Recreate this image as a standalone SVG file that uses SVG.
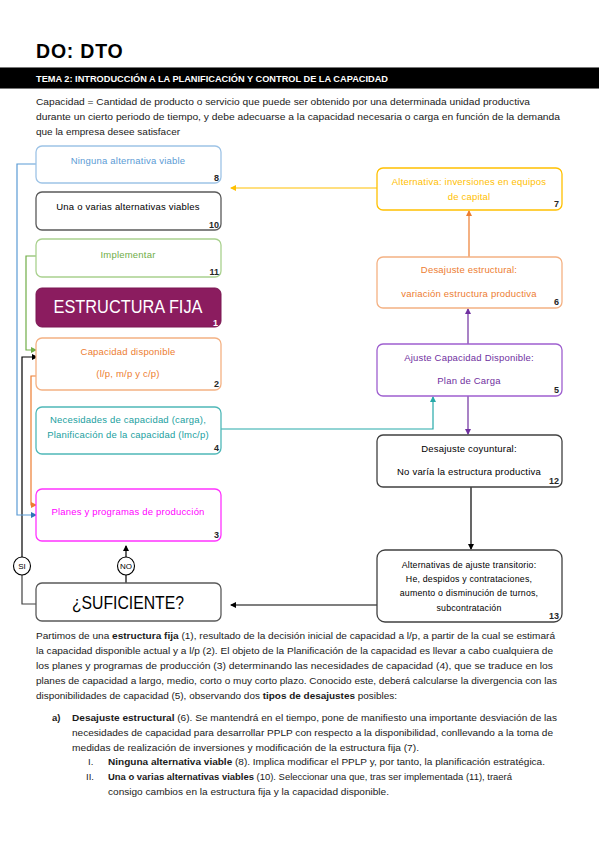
<svg xmlns="http://www.w3.org/2000/svg" width="599" height="848" viewBox="0 0 599 848">
<style>
text{font-family:"Liberation Sans",Arial,sans-serif;}
.n{fill:#fff;stroke-width:1.3;}
.t{font-size:9.5px;text-anchor:middle;letter-spacing:0.2px;}
.num{font-size:9px;text-anchor:end;fill:#262626;font-weight:bold;}
.p{font-size:9.5px;fill:#1a1a1a;}
.c{fill:none;stroke-width:1.2;}
.b{font-weight:bold;}
</style>
<defs>
<marker id="aY" markerWidth="6" markerHeight="6" refX="5" refY="3" orient="auto" markerUnits="userSpaceOnUse"><path d="M0,0 L6,3 L0,6z" fill="#ffc000"/></marker>
<marker id="aO" markerWidth="6" markerHeight="6" refX="5" refY="3" orient="auto" markerUnits="userSpaceOnUse"><path d="M0,0 L6,3 L0,6z" fill="#ed7d31"/></marker>
<marker id="aP" markerWidth="6" markerHeight="6" refX="5" refY="3" orient="auto" markerUnits="userSpaceOnUse"><path d="M0,0 L6,3 L0,6z" fill="#7030a0"/></marker>
<marker id="aT" markerWidth="6" markerHeight="6" refX="5" refY="3" orient="auto" markerUnits="userSpaceOnUse"><path d="M0,0 L6,3 L0,6z" fill="#26a9a9"/></marker>
<marker id="aK" markerWidth="6" markerHeight="6" refX="5" refY="3" orient="auto" markerUnits="userSpaceOnUse"><path d="M0,0 L6,3 L0,6z" fill="#000"/></marker>
<marker id="aB" markerWidth="6" markerHeight="6" refX="5" refY="3" orient="auto" markerUnits="userSpaceOnUse"><path d="M0,0 L6,3 L0,6z" fill="#2e75b6"/></marker>
<marker id="aG" markerWidth="6" markerHeight="6" refX="5" refY="3" orient="auto" markerUnits="userSpaceOnUse"><path d="M0,0 L6,3 L0,6z" fill="#70ad47"/></marker>
</defs>
<rect width="599" height="848" fill="#fff"/>

<!-- header -->
<text x="36" y="58" font-size="19.5" font-weight="900" fill="#000" font-family="Lato,'Liberation Sans',sans-serif" letter-spacing="0.8">DO: DTO</text>
<rect x="0" y="67" width="599" height="22" fill="#000"/>
<line x1="0" y1="67.5" x2="599" y2="67.5" stroke="#777" stroke-width="1"/>
<line x1="0" y1="88.5" x2="599" y2="88.5" stroke="#777" stroke-width="1"/>
<text x="36" y="82" font-size="9" font-weight="bold" fill="#fff" textLength="352" lengthAdjust="spacingAndGlyphs">TEMA 2: INTRODUCCIÓN A LA PLANIFICACIÓN Y CONTROL DE LA CAPACIDAD</text>
<text class="p" x="36" y="105" textLength="494" lengthAdjust="spacingAndGlyphs">Capacidad = Cantidad de producto o servicio que puede ser obtenido por una determinada unidad productiva</text>
<text class="p" x="36" y="120" textLength="524" lengthAdjust="spacingAndGlyphs">durante un cierto periodo de tiempo, y debe adecuarse a la capacidad necesaria o carga en función de la demanda</text>
<text class="p" x="36" y="135" textLength="144" lengthAdjust="spacingAndGlyphs">que la empresa desee satisfacer</text>

<!-- connectors -->
<g id="connectors">
<path class="c" stroke="#ffc000" d="M377,188 H231" marker-end="url(#aY)"/>
<path class="c" stroke="#ed7d31" d="M469,257 V211" marker-end="url(#aO)"/>
<path class="c" stroke="#7030a0" d="M468,344 V309" marker-end="url(#aP)"/>
<path class="c" stroke="#26a9a9" d="M221,429 H433 V397" marker-end="url(#aT)"/>
<path class="c" stroke="#7030a0" d="M468,396 V434" marker-end="url(#aP)"/>
<path class="c" stroke="#000" d="M471,487 V549" marker-end="url(#aK)"/>
<path class="c" stroke="#000" d="M377,605 H231" marker-end="url(#aK)"/>
<path class="c" stroke="#000" d="M126,583 V575"/>
<path class="c" stroke="#000" d="M126,557 V546" marker-end="url(#aK)"/>
<path class="c" stroke="#404040" d="M36,604 H22 V575"/>
<path class="c" stroke="#000" d="M22,557 V357 H37" marker-end="url(#aK)"/>
<path class="c" stroke="#5b9bd5" d="M36,164 H17 V515 H36" marker-end="url(#aB)"/>
<path class="c" stroke="#70ad47" d="M36,256 H26 V350 H36" marker-end="url(#aG)"/>
<path class="c" stroke="#ed7d31" d="M36,376 H31 V505 H36" marker-end="url(#aO)"/>
<g id="si"><ellipse cx="22" cy="566" rx="8.5" ry="9" fill="#fff" stroke="#000" stroke-width="1.1"/><text x="22" y="569" font-size="8" text-anchor="middle">SI</text></g>
<g id="no"><ellipse cx="126" cy="566" rx="8.5" ry="9" fill="#fff" stroke="#000" stroke-width="1.1"/><text x="126" y="569" font-size="8" text-anchor="middle">NO</text></g>
</g>

<!-- nodes -->
<g id="n8"><rect class="n" x="36" y="146" width="185" height="37" rx="6" stroke="#9dc3e6"/><text class="t" x="128" y="164" fill="#5b9bd5">Ninguna alternativa viable</text><text class="num" x="219" y="181">8</text></g>
<g id="n10"><rect class="n" x="36" y="192" width="185" height="38" rx="6" stroke="#595959"/><text class="t" x="128" y="210" fill="#000">Una o varias alternativas viables</text><text class="num" x="219" y="228">10</text></g>
<g id="n11"><rect class="n" x="36" y="239" width="185" height="38" rx="6" stroke="#a9d18e"/><text class="t" x="128" y="258" fill="#70ad47">Implementar</text><text class="num" x="219" y="275">11</text></g>
<g id="n1"><rect x="36" y="288" width="185" height="39" rx="6" fill="#8b1c5f" stroke="#7a1752"/><text x="128" y="313" font-size="18" text-anchor="middle" fill="#fff" textLength="149" lengthAdjust="spacingAndGlyphs">ESTRUCTURA FIJA</text><text class="num" x="218" y="325.5" style="fill:#fff">1</text></g>
<g id="n2"><rect class="n" x="36" y="338" width="185" height="52" rx="6" stroke="#f4b183"/><text class="t" x="128" y="355" fill="#ed7d31">Capacidad disponible</text><text class="t" x="128" y="377" fill="#ed7d31">(l/p, m/p y c/p)</text><text class="num" x="219" y="387">2</text></g>
<g id="n4"><rect class="n" x="36" y="407" width="185" height="47" rx="6" stroke="#4fb8b8"/><text class="t" x="128" y="423" fill="#21a0a0">Necesidades de capacidad (carga),</text><text class="t" x="128" y="438" fill="#21a0a0">Planificación de la capacidad (lmc/p)</text><text class="num" x="219" y="451">4</text></g>
<g id="n3"><rect class="n" x="36" y="489" width="185" height="52" rx="6" stroke="#ff33ff"/><text class="t" x="128" y="515" fill="#ff00ff">Planes y programas de producción</text><text class="num" x="219" y="538">3</text></g>
<g id="n7"><rect class="n" x="377" y="168" width="185" height="42" rx="6" stroke="#ffc000"/><text class="t" x="469" y="185" fill="#ffc000">Alternativa: inversiones en equipos</text><text class="t" x="469" y="200" fill="#ffc000">de capital</text><text class="num" x="559" y="207">7</text></g>
<g id="n6"><rect class="n" x="377" y="257" width="185" height="51" rx="6" stroke="#f4b183"/><text class="t" x="469" y="273" fill="#ed7d31">Desajuste estructural:</text><text class="t" x="469" y="297" fill="#ed7d31">variación estructura productiva</text><text class="num" x="559" y="305">6</text></g>
<g id="n5"><rect class="n" x="377" y="344" width="185" height="52" rx="6" stroke="#9e5fcf"/><text class="t" x="469" y="361" fill="#7030a0">Ajuste Capacidad Disponible:</text><text class="t" x="469" y="384" fill="#7030a0">Plan de Carga</text><text class="num" x="559" y="393">5</text></g>
<g id="n12"><rect class="n" x="377" y="435" width="185" height="52" rx="6" stroke="#404040"/><text class="t" x="469" y="452" fill="#000">Desajuste coyuntural:</text><text class="t" x="469" y="475" fill="#000">No varía la estructura productiva</text><text class="num" x="559" y="484">12</text></g>
<g id="n13"><rect class="n" x="377" y="550" width="185" height="72" rx="8" stroke="#404040"/><text class="t" x="469" y="568" fill="#000" style="font-size:8.8px">Alternativas de ajuste transitorio:</text><text class="t" x="469" y="582" fill="#000" style="font-size:8.8px">He, despidos y contrataciones,</text><text class="t" x="469" y="596" fill="#000" style="font-size:8.8px">aumento o disminución de turnos,</text><text class="t" x="469" y="611" fill="#000" style="font-size:8.8px">subcontratación</text><text class="num" x="559" y="619">13</text></g>
<g id="nS"><rect class="n" x="36" y="583" width="185" height="38" rx="6" stroke="#595959"/><text x="128" y="609" font-size="18" text-anchor="middle" fill="#000" textLength="112" lengthAdjust="spacingAndGlyphs">¿SUFICIENTE?</text></g>

<!-- body text -->
<text class="p" x="36" y="639" textLength="519" lengthAdjust="spacingAndGlyphs">Partimos de una <tspan class="b">estructura fija</tspan> (1), resultado de la decisión inicial de capacidad a l/p, a partir de la cual se estimará</text>
<text class="p" x="36" y="654" textLength="517" lengthAdjust="spacingAndGlyphs">la capacidad disponible actual y a l/p (2). El objeto de la Planificación de la capacidad es llevar a cabo cualquiera de</text>
<text class="p" x="36" y="669" textLength="517" lengthAdjust="spacingAndGlyphs">los planes y programas de producción (3) determinando las necesidades de capacidad (4), que se traduce en los</text>
<text class="p" x="36" y="684" textLength="521" lengthAdjust="spacingAndGlyphs">planes de capacidad a largo, medio, corto o muy corto plazo. Conocido este, deberá calcularse la divergencia con las</text>
<text class="p" x="36" y="699" textLength="361" lengthAdjust="spacingAndGlyphs">disponibilidades de capacidad (5), observando dos <tspan class="b">tipos de desajustes</tspan> posibles:</text>
<text class="p b" x="52" y="721">a)</text>
<text class="p" x="72" y="721" textLength="485" lengthAdjust="spacingAndGlyphs"><tspan class="b">Desajuste estructural</tspan> (6). Se mantendrá en el tiempo, pone de manifiesto una importante desviación de las</text>
<text class="p" x="72" y="736" textLength="481" lengthAdjust="spacingAndGlyphs">necesidades de capacidad para desarrollar PPLP con respecto a la disponibilidad, conllevando a la toma de</text>
<text class="p" x="72" y="751" textLength="347" lengthAdjust="spacingAndGlyphs">medidas de realización de inversiones y modificación de la estructura fija (7).</text>
<text class="p" x="88" y="765">I.</text>
<text class="p" x="108" y="765" textLength="437" lengthAdjust="spacingAndGlyphs"><tspan class="b">Ninguna alternativa viable</tspan> (8). Implica modificar el PPLP y, por tanto, la planificación estratégica.</text>
<text class="p" x="86" y="780">II.</text>
<text class="p" x="108" y="780" textLength="404" lengthAdjust="spacingAndGlyphs"><tspan class="b">Una o varias alternativas viables</tspan> (10). Seleccionar una que, tras ser implementada (11), traerá</text>
<text class="p" x="108" y="795" textLength="281" lengthAdjust="spacingAndGlyphs">consigo cambios en la estructura fija y la capacidad disponible.</text>
</svg>
